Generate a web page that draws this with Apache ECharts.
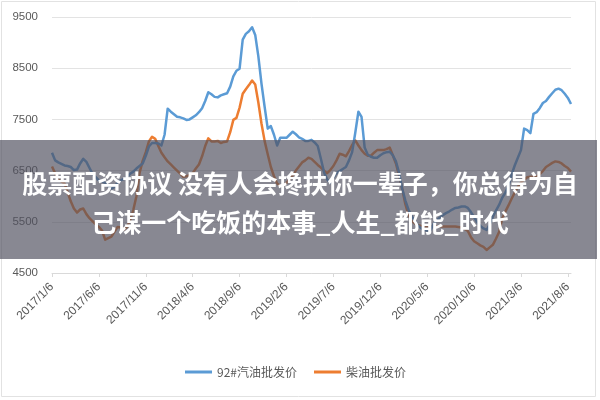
<!DOCTYPE html>
<html>
<head>
<meta charset="utf-8">
<script src="https://cdn.jsdelivr.net/npm/echarts@6/dist/echarts.min.js"></script>
<style>html,body{margin:0;padding:0;background:#fff;}#c{width:600px;height:400px;}</style>
</head>
<body>
<div id="c"></div>
<script>
// category dates: 6th, 16th, 26th of each month from 2017/1/6
const categories = [];
(function(){
  let y = 2017, m = 1;
  const days = [6, 16, 26];
  while (categories.length < 167) {
    for (const d of days) {
      if (categories.length < 167) categories.push(y + '/' + m + '/' + d);
    }
    m++; if (m > 12) { m = 1; y++; }
  }
})();

const yTicks = [4500, 5500, 6500, 7500, 8500, 9500];

const gasoline92 = [
6850,6700,6660,6630,6600,6590,6570,6510,6520,6640,
6730,6670,6550,6430,6370,6310,6290,6260,6190,6150,
6180,6270,6310,6340,6370,6440,6480,6540,6590,6640,
6790,6970,7040,7040,7030,6990,7200,7710,7650,7600,
7550,7540,7520,7490,7500,7540,7580,7640,7720,7860,
8030,7990,7940,7930,7970,7990,8010,8140,8340,8450,
8490,9060,9170,9220,9300,9150,8730,8200,7750,7320,
7370,7200,6990,7140,7140,7140,7200,7260,7210,7150,
7120,7080,7080,7100,7050,6980,6730,6470,6330,6260,
6360,6450,6490,6530,6570,6700,6860,7240,7650,7550,
6950,6810,6770,6750,6750,6800,6840,6860,6870,6800,
6680,6460,6150,5920,5740,5610,5520,5430,5380,5340,
5330,5330,5450,5530,5580,5630,5670,5700,5740,5770,
5780,5800,5800,5770,5690,5590,5490,5420,5370,5340,
5450,5600,5720,5830,5970,6070,6200,6420,6600,6750,
6900,7320,7290,7230,7610,7640,7720,7820,7860,7940,
8010,8080,8100,8070,8000,7920,7800
];

const diesel = [
6580,6450,6320,6290,6250,6080,5900,5760,5680,5740,
5760,5650,5570,5510,5450,5400,5330,5150,5180,5210,
5310,5400,5390,5350,5400,5530,5730,6000,6450,6690,
6860,7070,7160,7120,6980,6850,6760,6680,6620,6560,
6500,6440,6380,6390,6410,6450,6540,6620,6780,6980,
7130,7070,7070,7080,7040,7060,7070,7250,7490,7530,
7730,8000,8090,8170,8260,8180,7830,7420,7080,6820,
6570,6390,6250,6200,6210,6260,6330,6410,6500,6580,
6660,6700,6750,6730,6670,6610,6560,6500,6450,6510,
6590,6700,6830,6810,6780,6880,7000,7090,6990,6900,
6830,6790,6790,6850,6900,6900,6900,6920,6950,6800,
6640,6400,6150,5850,5640,5520,5470,5440,5420,5410,
5410,5410,5410,5410,5410,5410,5410,5410,5410,5410,
5400,5390,5360,5320,5200,5120,5080,5040,5010,4950,
5000,5050,5170,5300,5560,5700,5820,5950,6070,6180,
6270,6320,6370,6380,6380,6380,6430,6490,6570,6610,
6650,6680,6670,6640,6590,6550,6480
];

const seriesNames = ['92#汽油批发价', '柴油批发价'];
const bannerLines = ['股票配资协议 没有人会搀扶你一辈子，你总得为自', '己谋一个吃饭的本事_人生_都能_时代'];

const chart = echarts.init(document.getElementById('c'), null, {renderer: 'canvas'});
const txt = '#595959';
chart.setOption({
  animation: false,
  backgroundColor: '#fff',
  grid: {left: 52, right: 29, top: 17, bottom: 127},
  xAxis: {
    type: 'category',
    data: categories,
    boundaryGap: false,
    axisLine: {lineStyle: {color: '#d9d9d9', width: 1}},
    axisTick: {show: true, interval: 14, length: 4, lineStyle: {color: '#d9d9d9'}},
    axisLabel: {interval: 14, rotate: 45, color: txt, fontSize: 12, margin: 12, fontFamily: 'Liberation Sans, Arial, sans-serif'},
    splitLine: {show: false}
  },
  yAxis: {
    type: 'value',
    min: yTicks[0], max: yTicks[yTicks.length - 1], interval: 1000,
    axisLine: {show: false},
    axisTick: {show: false},
    axisLabel: {color: txt, fontSize: 11.5, margin: 14, fontFamily: 'Liberation Sans, Arial, sans-serif',
      formatter: function (v) { return String(v); }},
    splitLine: {lineStyle: {color: '#e3e3e3', width: 1}}
  },
  legend: {
    bottom: 17, left: 180,
    itemWidth: 27, itemHeight: 3, itemGap: 17,
    icon: 'rect',
    textStyle: {color: txt, fontSize: 12, fontFamily: 'Noto Sans CJK SC'},
    data: seriesNames
  },
  series: [
    {name: seriesNames[0], type: 'line', data: gasoline92, showSymbol: false, symbol: 'none',
     lineStyle: {color: '#5B9BD5', width: 2.5, join: 'round'}, itemStyle: {color: '#5B9BD5'}, z: 3},
    {name: seriesNames[1], type: 'line', data: diesel, showSymbol: false, symbol: 'none',
     lineStyle: {color: '#ED7D31', width: 2.5, join: 'round'}, itemStyle: {color: '#ED7D31'}, z: 2}
  ],
  graphic: [
    {type: 'rect', z: 1, silent: true, shape: {x: 1.5, y: 1.5, width: 594, height: 395},
     style: {fill: null, stroke: '#e2e2e2', lineWidth: 1}},
    {type: 'rect', z: 100, silent: true, shape: {x: 0, y: 140, width: 597, height: 119},
     style: {fill: 'rgba(80,80,95,0.68)'}},
    {type: 'text', z: 101, silent: true, x: 300, y: 183,
     style: {text: bannerLines[0], fill: '#fff', font: 'bold 25px "Noto Sans CJK SC"', align: 'center', verticalAlign: 'middle'}},
    {type: 'text', z: 101, silent: true, x: 300, y: 222,
     style: {text: bannerLines[1], fill: '#fff', font: 'bold 25px "Noto Sans CJK SC"', align: 'center', verticalAlign: 'middle'}}
  ]
});
</script>
</body>
</html>
